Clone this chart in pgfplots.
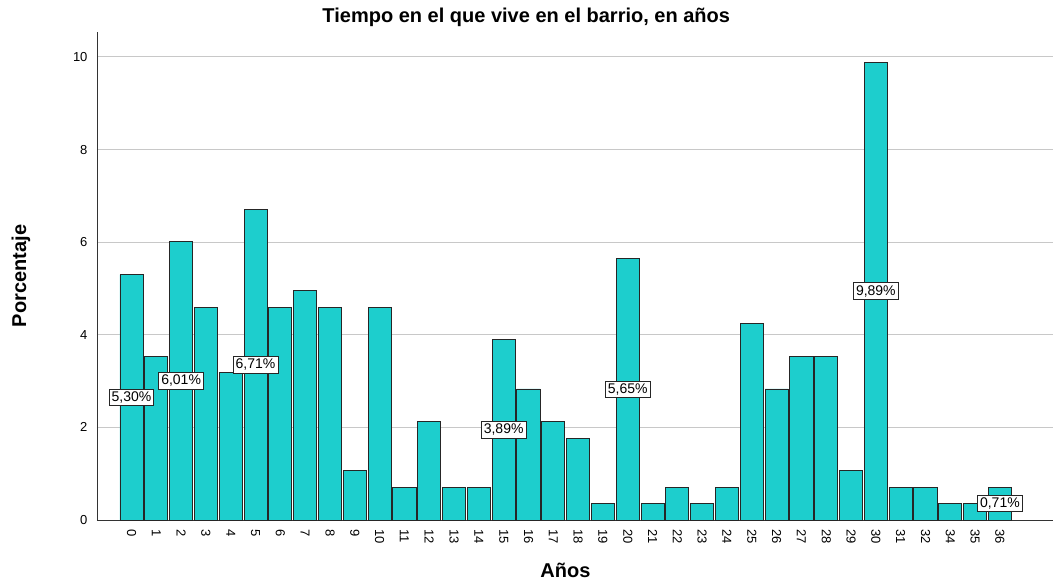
\documentclass[border=0pt]{standalone}
\usepackage{pgfplots}
\pgfplotsset{compat=1.18}
\usepackage{fontspec}
\setmainfont{Liberation Sans}
\definecolor{barfill}{RGB}{29,206,205}
\definecolor{gridc}{RGB}{200,200,200}
\begin{document}
\begin{tikzpicture}[x=1bp,y=1bp]
\useasboundingbox (-97bp,-64bp) rectangle (956bp,520bp);
\begin{axis}[
  at={(0,0)}, anchor=south west,
  scale only axis, width=956bp, height=488bp,
  xmin=-1.39, xmax=37.14, ymin=0, ymax=10.54,
  axis x line=bottom, axis y line=left,
  axis line style={-, black!80, line width=0.8bp},
  ytick={0,2,4,6,8,10},
  xtick={0,...,35},
  xticklabels={0,1,2,3,4,5,6,7,8,9,10,11,12,13,14,15,16,17,18,19,20,21,22,23,24,25,26,27,28,29,30,31,32,34,35,36},
  x tick label style={rotate=-90, anchor=west, font=\fontsize{13bp}{15bp}\selectfont},
  y tick label style={font=\fontsize{13bp}{15bp}\selectfont},
  /pgf/number format/assume math mode=true,
  major tick length=0pt,
  xticklabel shift=6bp, yticklabel shift=6bp,
  ymajorgrids, grid style={gridc, line width=1bp},
  title={Tiempo en el que vive en el barrio, en años},
  title style={at={(0.449,1.017)}, anchor=center, yshift=0pt, font=\bfseries\fontsize{20bp}{23bp}\selectfont},
  xlabel={Años},
  xlabel style={at={(0.49,-0.1025)}, anchor=center, font=\bfseries\fontsize{20bp}{23bp}\selectfont},
  ylabel={Porcentaje},
  ylabel style={at={(-0.0795,0.5)}, anchor=center, rotate=0, font=\bfseries\fontsize{20bp}{23bp}\selectfont},
  clip=false,
]
\addplot[ybar, bar width=0.93, fill=barfill, draw=black!85, line width=0.9bp] coordinates {
(0,5.30) (1,3.53) (2,6.01) (3,4.59) (4,3.18) (5,6.71) (6,4.59) (7,4.95) (8,4.59) (9,1.06)
(10,4.59) (11,0.71) (12,2.12) (13,0.71) (14,0.71) (15,3.89) (16,2.83) (17,2.12) (18,1.77) (19,0.35)
(20,5.65) (21,0.35) (22,0.71) (23,0.35) (24,0.71) (25,4.24) (26,2.83) (27,3.53) (28,3.53) (29,1.06)
(30,9.89) (31,0.71) (32,0.71) (33,0.35) (34,0.35) (35,0.71)
};
\addplot[draw=none, mark=none, nodes near coords, point meta=explicit symbolic,
  every node near coord/.style={anchor=center, draw=black!85, fill=white, line width=0.7bp,
  inner sep=2.5bp, font=\fontsize{14bp}{16bp}\selectfont}] coordinates {
(0,2.65) [5,30\%]
(2,3.005) [6,01\%]
(5,3.355) [6,71\%]
(15,1.945) [3,89\%]
(20,2.825) [5,65\%]
(30,4.945) [9,89\%]
(35,0.355) [0,71\%]
};
\end{axis}
\end{tikzpicture}
\end{document}
